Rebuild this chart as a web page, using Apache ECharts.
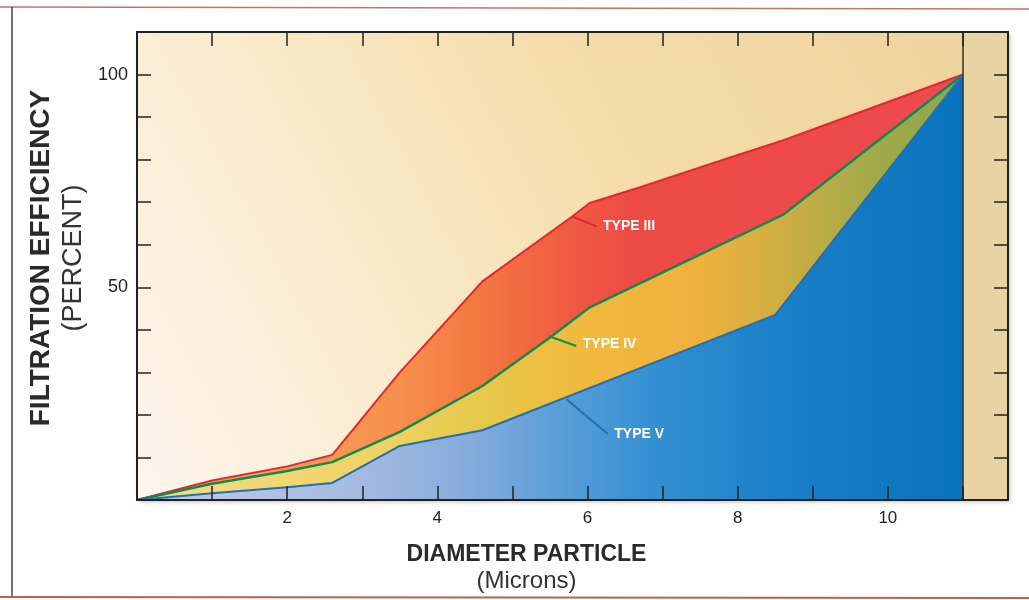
<!DOCTYPE html>
<html><head><meta charset="utf-8">
<script src="https://cdn.jsdelivr.net/npm/echarts@6/dist/echarts.min.js"></script>
<style>html,body{margin:0;padding:0;background:#fff;}#c{width:1029px;height:600px;}</style>
</head><body><div id="c"></div>
<script>
// ---- data (x = particle diameter in microns, y = efficiency %) ----
const typeIII = [[0,0],[1,4.6],[2,7.9],[2.6,10.6],[3.5,30.0],[4.6,51.4],[5.8,66.7],[6.03,69.8],[6.7,73.5],[7.9,80.5],[8.6,84.5],[11,100]];
const typeIV  = [[0,0],[1,3.8],[2,6.8],[2.6,8.9],[3.5,16.0],[4.6,26.8],[5.5,38.2],[6.03,45.3],[8.6,67.0],[11,100]];
const typeV   = [[0,0],[1,1.6],[2,3.0],[2.6,4.0],[3.5,12.7],[4.6,16.4],[8.5,43.5],[11,100]];
const seriesNames = ['TYPE III','TYPE IV','TYPE V'];
const xTickLabels = [2,4,6,8,10];
const yTickLabels = [50,100];
// leader lines for the in-plot labels (data coordinates: start on curve, end at label)
const leaderIII = [[5.79,66.7],[6.12,64.3]];
const leaderIV  = [[5.49,38.5],[5.85,36.2]];
const leaderV   = [[5.72,23.7],[6.27,15.5]];
const endX = 11;

const FONT = "'Liberation Sans', Arial, Helvetica, sans-serif";
const chart = echarts.init(document.getElementById('c'), null, {renderer:'canvas'});
const G = echarts.graphic.LinearGradient;

function leader(pts, color, name, dy){
  return {
    markLine: {
      silent: true, symbol: ['none','none'], animation: false,
      lineStyle: {color: color, width: 2, type: 'solid'},
      label: {show: false},
      data: [[{coord: pts[0]}, {coord: pts[1]}]]
    },
    markPoint: {
      silent: true, symbol: 'circle', symbolSize: 1, animation: false,
      itemStyle: {color: 'rgba(0,0,0,0)'},
      label: {show: true, position: 'right', distance: 6, offset: [0, dy],
        formatter: name, color: '#ffffff', fontWeight: 'bold', fontSize: 14, fontFamily: FONT},
      data: [{coord: pts[1]}]
    }
  };
}

function axisBase(extra){
  return Object.assign({
    type: 'value', min: 0, interval: 1,
    axisLine: {show: true, onZero: false, lineStyle: {color: '#222', width: 2}},
    axisTick: {show: true, inside: true, length: 14, lineStyle: {color: '#222', width: 1.5}},
    splitLine: {show: false}, z: 10
  }, extra);
}

const option = {
  animation: false,
  backgroundColor: '#ffffff',
  graphic: [
    {type: 'line', shape: {x1: 0, y1: 7, x2: 1029, y2: 9}, style: {stroke: '#c9735c', lineWidth: 1.5}, silent: true},
    {type: 'line', shape: {x1: 12, y1: 7, x2: 12, y2: 597}, style: {stroke: '#444', lineWidth: 1.5}, silent: true},
    {type: 'line', shape: {x1: 0, y1: 597, x2: 1029, y2: 598}, style: {stroke: '#b8644a', lineWidth: 2}, silent: true}
  ],
  grid: {
    left: 137, top: 32, width: 871, height: 468, show: true, borderWidth: 0,
    backgroundColor: new G(0, 1, 1, 0, [
      {offset: 0, color: '#fdf6ee'},
      {offset: 0.3, color: '#faebcd'},
      {offset: 0.6, color: '#f5dca8'},
      {offset: 1, color: '#eed29b'}
    ]),
    shadowColor: 'rgba(0,0,0,0.25)', shadowBlur: 4, shadowOffsetX: 2, shadowOffsetY: 2
  },
  xAxis: [
    axisBase({
      position: 'bottom', max: 11.6,
      axisLabel: {show: true, margin: 10, fontSize: 17, color: '#222', fontFamily: FONT,
        formatter: v => xTickLabels.indexOf(Math.round(v*100)/100) >= 0 ? String(v) : ''},
      name: '{a|DIAMETER PARTICLE}\n{b|(Microns)}', nameLocation: 'middle', nameGap: 42,
      nameTextStyle: {padding: [0, 92, 0, 0], rich: {
        a: {fontSize: 23, fontWeight: 'bold', lineHeight: 26, color: '#2a2a2a', fontFamily: FONT, align: 'center'},
        b: {fontSize: 24, lineHeight: 26, color: '#333', fontFamily: FONT, align: 'center'}
      }}
    }),
    axisBase({position: 'top', max: 11.6, axisLabel: {show: false}})
  ],
  yAxis: [
    axisBase({
      position: 'left', max: 110, interval: 10,
      axisLabel: {show: true, margin: 9, fontSize: 18, color: '#222', fontFamily: FONT,
        formatter: v => yTickLabels.indexOf(v) >= 0 ? String(v) : ''},
      name: '{a|FILTRATION EFFICIENCY}\n{b|(PERCENT)}', nameLocation: 'middle', nameGap: 45,
      nameTextStyle: {padding: [0, 0, 0, 16], rich: {
        a: {fontSize: 28, fontWeight: 'bold', lineHeight: 32, color: '#2a2a2a', fontFamily: FONT, align: 'center'},
        b: {fontSize: 27, lineHeight: 32, color: '#333', fontFamily: FONT, align: 'center'}
      }}
    }),
    axisBase({position: 'right', max: 110, interval: 10, axisLabel: {show: false}})
  ],
  series: [
    Object.assign({
      name: seriesNames[0], type: 'line', data: typeIII, symbol: 'none', z: 2,
      lineStyle: {color: '#e6262e', width: 2},
      areaStyle: {opacity: 1, color: new G(0, 0, 1, 0, [
        {offset: 0, color: '#f8aa6a'},
        {offset: 0.32, color: '#f6904c'},
        {offset: 0.42, color: '#f37640'},
        {offset: 0.52, color: '#f05c42'},
        {offset: 0.6, color: '#ee4a46'},
        {offset: 1, color: '#ee4a50'}
      ])}
    }, leader(leaderIII, '#e6262e', seriesNames[0], 0)),
    Object.assign({
      name: seriesNames[1], type: 'line', data: typeIV, symbol: 'none', z: 3,
      lineStyle: {color: '#138a4c', width: 2.5},
      areaStyle: {opacity: 1, color: new G(0, 0, 1, 0, [
        {offset: 0, color: '#f2dc8a'},
        {offset: 0.3, color: '#f0d262'},
        {offset: 0.42, color: '#e6c84a'},
        {offset: 0.55, color: '#f2b83c'},
        {offset: 0.68, color: '#efb13c'},
        {offset: 0.78, color: '#cfae42'},
        {offset: 0.88, color: '#a6aa48'},
        {offset: 1, color: '#8aa64e'}
      ])}
    }, leader(leaderIV, '#138a4c', seriesNames[1], -2)),
    (function(){
      const s = Object.assign({
        name: seriesNames[2], type: 'line', data: typeV, symbol: 'none', z: 4,
        lineStyle: {color: '#2170b0', width: 2},
        areaStyle: {opacity: 1, color: new G(0, 0, 1, 0, [
          {offset: 0, color: '#c3c8e8'},
          {offset: 0.25, color: '#a8bce2'},
          {offset: 0.4, color: '#86acdc'},
          {offset: 0.5, color: '#5f9fd8'},
          {offset: 0.62, color: '#3590d2'},
          {offset: 0.78, color: '#1a80c8'},
          {offset: 1, color: '#0873bd'}
        ])}
      }, leader(leaderV, '#2170b0', seriesNames[2], 0));
      s.markArea = {silent: true, itemStyle: {color: '#e9d3a2'},
        data: [[{xAxis: endX}, {xAxis: 11.6}]]};
      return s;
    })(),
    {
      name: 'edge', type: 'line', data: [], z: 5,
      markLine: {silent: true, symbol: ['none','none'], label: {show: false},
        lineStyle: {color: '#333', width: 1.5, type: 'solid'},
        data: [{xAxis: endX}]}
    }
  ]
};
chart.setOption(option);
</script>
</body></html>
